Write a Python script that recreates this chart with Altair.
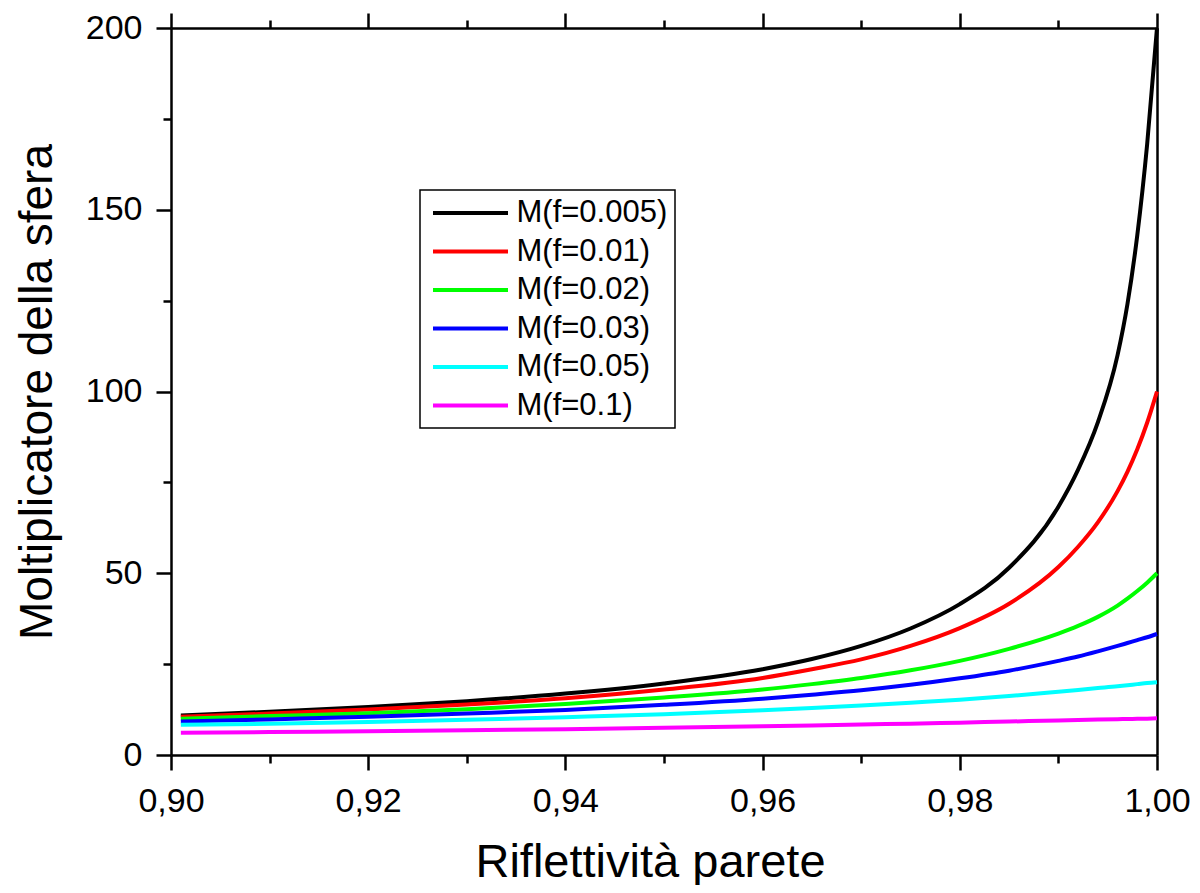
import altair as alt
import pandas as pd

# Wall reflectivity (x) sample positions
rho = [0.901, 0.91, 0.92, 0.93, 0.94, 0.95, 0.96, 0.965, 0.97, 0.975,
       0.98, 0.985, 0.99, 0.992, 0.994, 0.996, 0.997, 0.998, 0.999, 1.0]

m_f0005 = [10.9, 11.9, 13.2, 14.8, 16.9, 19.7, 23.6, 26.4, 30.0, 34.8,
           41.5, 51.5, 68.3, 78.5, 91.5, 110.0, 124.0, 143.0, 168.0, 200.0]
m_f001 = [10.5, 11.4, 12.5, 13.9, 15.6, 18.0, 21.2, 23.6, 26.3, 30.0,
          34.9, 41.6, 51.7, 57.3, 64.0, 72.6, 77.9, 84.1, 91.4, 100.0]
m_f002 = [10.0, 10.7, 11.5, 12.6, 14.0, 15.8, 18.0, 19.5, 21.2, 23.3,
          25.9, 29.2, 33.4, 35.5, 38.0, 41.1, 43.0, 45.1, 47.4, 50.0]
m_f003 = [9.2, 9.8, 10.5, 11.4, 12.4, 13.8, 15.5, 16.6, 17.8, 19.3,
          21.1, 23.2, 25.9, 27.1, 28.5, 30.0, 30.8, 31.6, 32.4, 33.3]
m_f005 = [8.3, 8.6, 9.1, 9.7, 10.4, 11.2, 12.3, 12.9, 13.6, 14.4,
          15.2, 16.2, 17.4, 17.9, 18.4, 18.9, 19.2, 19.5, 19.8, 20.0]
m_f01 = [6.1, 6.3, 6.5, 6.8, 7.1, 7.5, 7.9, 8.1, 8.4, 8.6,
         8.9, 9.2, 9.5, 9.6, 9.75, 9.85, 9.9, 9.95, 10.0, 10.1]

series_labels = ["M(f=0.005)", "M(f=0.01)", "M(f=0.02)", "M(f=0.03)", "M(f=0.05)", "M(f=0.1)"]
series_values = [m_f0005, m_f001, m_f002, m_f003, m_f005, m_f01]
series_colors = ["#000000", "#ff0000", "#00ff00", "#0000ff", "#00ffff", "#ff00ff"]

x_ticks = [0.90, 0.91, 0.92, 0.93, 0.94, 0.95, 0.96, 0.97, 0.98, 0.99, 1.00]
y_ticks = [0, 25, 50, 75, 100, 125, 150, 175, 200]

rows = []
for lab, vals in zip(series_labels, series_values):
    for r, v in zip(rho, vals):
        rows.append({"rho": r, "M": v, "serie": lab})
df = pd.DataFrame(rows)

FONT = "Liberation Sans"

x_major_test = "round(datum.value*100) % 2 === 0"
y_major_test = "datum.value % 50 === 0"

x_bottom = alt.Axis(
    orient="bottom", values=x_ticks, grid=False,
    labelExpr="round(datum.value*100) % 2 === 0 ? replace(format(datum.value, '.2f'), '.', ',') : ''",
    tickSize={"condition": {"test": x_major_test, "value": 15}, "value": 8},
    labelPadding=14, labelFontSize=34, labelFont=FONT, labelColor="black",
    title="Riflettività parete", titleFontSize=47, titleFont=FONT,
    titleFontWeight="normal", titleColor="black", titlePadding=21,
    titleX=479, titleAlign="center",
    domainColor="black", domainWidth=2.5, tickColor="black", tickWidth=2.5,
    labelFlush=False, labelOverlap=False,
)
y_left = alt.Axis(
    orient="left", values=y_ticks, grid=False,
    labelExpr="datum.value % 50 === 0 ? datum.label : ''",
    tickSize={"condition": {"test": y_major_test, "value": 15}, "value": 8},
    labelPadding=14, labelFontSize=34, labelFont=FONT, labelColor="black",
    title="Moltiplicatore della sfera", titleFontSize=46, titleFont=FONT,
    titleFontWeight="normal", titleColor="black", titlePadding=24,
    domainColor="black", domainWidth=2.5, tickColor="black", tickWidth=2.5,
    labelFlush=False, labelOverlap=False,
)
x_top = alt.Axis(
    orient="top", values=x_ticks, grid=False, labels=False, title=None,
    tickSize={"condition": {"test": x_major_test, "value": 15}, "value": 8},
    domainColor="black", domainWidth=2.5, tickColor="black", tickWidth=2.5,
)
y_right = alt.Axis(
    orient="right", values=y_ticks, grid=False, labels=False, title=None,
    ticks=False, domainColor="black", domainWidth=2.5,
)

xscale = alt.Scale(domain=[0.9, 1.0], nice=False, zero=False)
yscale = alt.Scale(domain=[0, 200], nice=False)

lines = alt.Chart(df).mark_line(strokeWidth=4, interpolate="monotone").encode(
    x=alt.X("rho:Q", scale=xscale, axis=x_bottom),
    y=alt.Y("M:Q", scale=yscale, axis=y_left),
    color=alt.Color(
        "serie:N",
        scale=alt.Scale(domain=series_labels, range=series_colors),
        sort=series_labels,
        legend=alt.Legend(
            title=None, orient="none", legendX=249, legendY=162,
            symbolType="M-3,0L3,0", symbolSize=625, symbolStrokeWidth=4,
            symbolOffset=27.5,
            labelFont=FONT, labelFontSize=31, labelColor="black",
            labelOffset=30.5, rowPadding=6.5, padding=7.5,
            strokeColor="black", fillColor="white",
        ),
    ),
)

frame = alt.Chart(df).mark_line(opacity=0).encode(
    x=alt.X("rho:Q", scale=xscale, axis=x_top),
    y=alt.Y("M:Q", scale=yscale, axis=y_right),
    detail="serie:N",
)

chart = alt.layer(lines, frame).resolve_axis(
    x="independent", y="independent"
).properties(
    width=986, height=727,
    autosize=alt.AutoSizeParams(type="none"),
    padding={"left": 163, "top": 20, "right": 35, "bottom": 130},
).configure_view(stroke=None).configure_legend(strokeWidth=1.5)

chart.save("out.html", embed_options={"renderer": "svg", "actions": False})
